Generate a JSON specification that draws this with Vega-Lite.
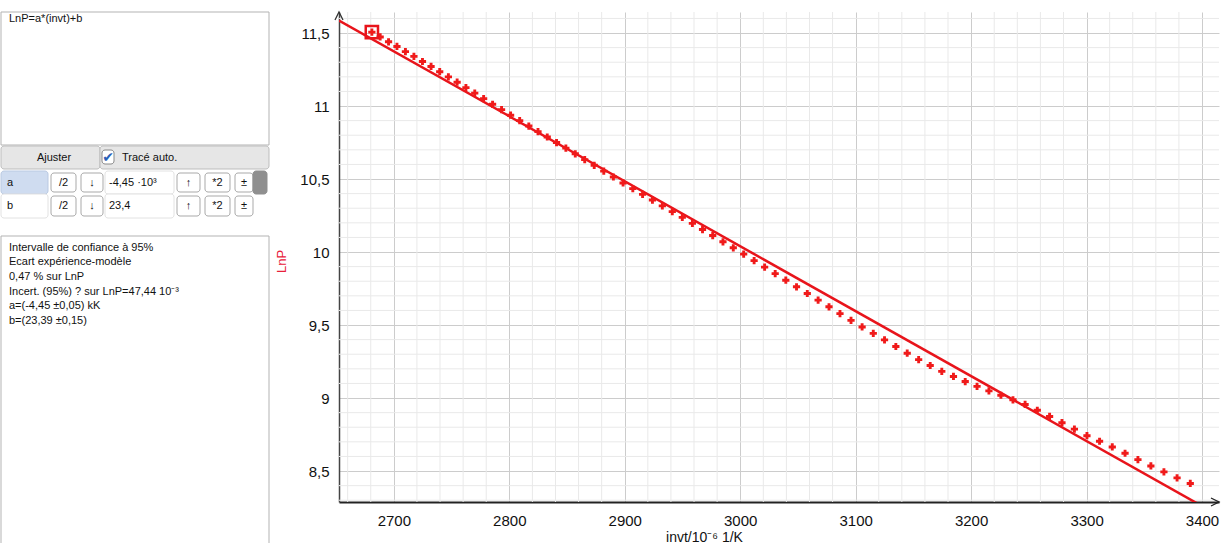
{
  "$schema": "https://vega.github.io/schema/vega-lite/v6.json",
  "padding": {"left": 0, "top": 9, "right": 0, "bottom": 0},
  "background": "white",
  "spacing": 70,
  "bounds": "flush",
  "config": {"view": {"stroke": null}, "font": "Liberation Sans"},
  "datasets": {
    "points": [
      {"invt": 2680.97, "LnP": 11.506}, {"invt": 2688.17, "LnP": 11.473}, {"invt": 2695.42, "LnP": 11.440},
      {"invt": 2702.70, "LnP": 11.408}, {"invt": 2710.03, "LnP": 11.373}, {"invt": 2717.39, "LnP": 11.340},
      {"invt": 2724.80, "LnP": 11.305}, {"invt": 2732.24, "LnP": 11.271}, {"invt": 2739.73, "LnP": 11.235},
      {"invt": 2747.25, "LnP": 11.200}, {"invt": 2754.82, "LnP": 11.163}, {"invt": 2762.43, "LnP": 11.126},
      {"invt": 2770.08, "LnP": 11.088}, {"invt": 2777.78, "LnP": 11.051}, {"invt": 2785.52, "LnP": 11.012},
      {"invt": 2793.30, "LnP": 10.975}, {"invt": 2801.12, "LnP": 10.937}, {"invt": 2808.99, "LnP": 10.900},
      {"invt": 2816.90, "LnP": 10.863}, {"invt": 2824.86, "LnP": 10.825}, {"invt": 2832.86, "LnP": 10.788},
      {"invt": 2840.91, "LnP": 10.750}, {"invt": 2849.00, "LnP": 10.712}, {"invt": 2857.14, "LnP": 10.673},
      {"invt": 2865.33, "LnP": 10.633}, {"invt": 2873.56, "LnP": 10.594}, {"invt": 2881.84, "LnP": 10.554},
      {"invt": 2890.17, "LnP": 10.514}, {"invt": 2898.55, "LnP": 10.473}, {"invt": 2906.98, "LnP": 10.434},
      {"invt": 2915.45, "LnP": 10.395}, {"invt": 2923.98, "LnP": 10.356}, {"invt": 2932.55, "LnP": 10.316},
      {"invt": 2941.18, "LnP": 10.277}, {"invt": 2949.85, "LnP": 10.237}, {"invt": 2958.58, "LnP": 10.196},
      {"invt": 2967.36, "LnP": 10.154}, {"invt": 2976.19, "LnP": 10.113}, {"invt": 2985.07, "LnP": 10.070},
      {"invt": 2994.01, "LnP": 10.029}, {"invt": 3003.00, "LnP": 9.986}, {"invt": 3012.05, "LnP": 9.941},
      {"invt": 3021.15, "LnP": 9.897}, {"invt": 3030.30, "LnP": 9.852}, {"invt": 3039.51, "LnP": 9.807},
      {"invt": 3048.78, "LnP": 9.762}, {"invt": 3058.10, "LnP": 9.716}, {"invt": 3067.48, "LnP": 9.671},
      {"invt": 3076.92, "LnP": 9.625}, {"invt": 3086.42, "LnP": 9.578}, {"invt": 3095.98, "LnP": 9.532},
      {"invt": 3105.59, "LnP": 9.487}, {"invt": 3115.26, "LnP": 9.443}, {"invt": 3125.00, "LnP": 9.398},
      {"invt": 3134.80, "LnP": 9.353}, {"invt": 3144.65, "LnP": 9.307}, {"invt": 3154.57, "LnP": 9.263},
      {"invt": 3164.56, "LnP": 9.223}, {"invt": 3174.60, "LnP": 9.183}, {"invt": 3184.71, "LnP": 9.148},
      {"invt": 3194.89, "LnP": 9.113}, {"invt": 3205.13, "LnP": 9.080}, {"invt": 3215.43, "LnP": 9.049},
      {"invt": 3225.81, "LnP": 9.019}, {"invt": 3236.25, "LnP": 8.988}, {"invt": 3246.75, "LnP": 8.956},
      {"invt": 3257.33, "LnP": 8.916}, {"invt": 3267.97, "LnP": 8.874}, {"invt": 3278.69, "LnP": 8.831},
      {"invt": 3289.47, "LnP": 8.787}, {"invt": 3300.33, "LnP": 8.742}, {"invt": 3311.26, "LnP": 8.704},
      {"invt": 3322.26, "LnP": 8.665}, {"invt": 3333.33, "LnP": 8.622}, {"invt": 3344.48, "LnP": 8.578},
      {"invt": 3355.70, "LnP": 8.535}, {"invt": 3367.00, "LnP": 8.494}, {"invt": 3378.38, "LnP": 8.453},
      {"invt": 3389.83, "LnP": 8.415}
    ],
    "fit": [{"invt": 2652.5, "LnP": 11.586}, {"invt": 3400, "LnP": 8.26}],
    "gridx": [
      {"invt": 2660}, {"invt": 2680}, {"invt": 2720}, {"invt": 2740}, {"invt": 2760}, {"invt": 2780},
      {"invt": 2820}, {"invt": 2840}, {"invt": 2860}, {"invt": 2880}, {"invt": 2920}, {"invt": 2940},
      {"invt": 2960}, {"invt": 2980}, {"invt": 3020}, {"invt": 3040}, {"invt": 3060}, {"invt": 3080},
      {"invt": 3120}, {"invt": 3140}, {"invt": 3160}, {"invt": 3180}, {"invt": 3220}, {"invt": 3240},
      {"invt": 3260}, {"invt": 3280}, {"invt": 3320}, {"invt": 3340}, {"invt": 3360}, {"invt": 3380}
    ],
    "gridy": [
      {"LnP": 8.3}, {"LnP": 8.4}, {"LnP": 8.6}, {"LnP": 8.7}, {"LnP": 8.8}, {"LnP": 8.9},
      {"LnP": 9.1}, {"LnP": 9.2}, {"LnP": 9.3}, {"LnP": 9.4}, {"LnP": 9.6}, {"LnP": 9.7},
      {"LnP": 9.8}, {"LnP": 9.9}, {"LnP": 10.1}, {"LnP": 10.2}, {"LnP": 10.3}, {"LnP": 10.4},
      {"LnP": 10.6}, {"LnP": 10.7}, {"LnP": 10.8}, {"LnP": 10.9}, {"LnP": 11.1}, {"LnP": 11.2},
      {"LnP": 11.3}, {"LnP": 11.4}, {"LnP": 11.6}
    ],
    "panelCells": [
      {"kind": "box", "x0": 0, "x1": 29, "y0": 0, "y1": 2},
      {"kind": "box", "x0": 0, "x1": 29, "y0": 17, "y1": 24},
      {"kind": "bar", "x0": 0, "x1": 10, "y0": 3, "y1": 7},
      {"kind": "bar", "x0": 10, "x1": 29, "y0": 3, "y1": 7},
      {"kind": "check", "x0": 11, "x1": 16, "y0": 4, "y1": 6},
      {"kind": "sel", "x0": 0, "x1": 3, "y0": 8, "y1": 12},
      {"kind": "cell", "x0": 0, "x1": 3, "y0": 12, "y1": 16},
      {"kind": "cell", "x0": 13, "x1": 18, "y0": 8, "y1": 12},
      {"kind": "cell", "x0": 13, "x1": 18, "y0": 12, "y1": 16},
      {"kind": "button", "x0": 4, "x1": 7, "y0": 9, "y1": 11},
      {"kind": "button", "x0": 8, "x1": 12, "y0": 9, "y1": 11},
      {"kind": "button", "x0": 19, "x1": 21, "y0": 9, "y1": 11},
      {"kind": "button", "x0": 22, "x1": 24, "y0": 9, "y1": 11},
      {"kind": "button", "x0": 25, "x1": 27, "y0": 9, "y1": 11},
      {"kind": "button", "x0": 4, "x1": 7, "y0": 13, "y1": 15},
      {"kind": "button", "x0": 8, "x1": 12, "y0": 13, "y1": 15},
      {"kind": "button", "x0": 19, "x1": 21, "y0": 13, "y1": 15},
      {"kind": "button", "x0": 22, "x1": 24, "y0": 13, "y1": 15},
      {"kind": "button", "x0": 25, "x1": 27, "y0": 13, "y1": 15},
      {"kind": "scroll", "x0": 27, "x1": 28, "y0": 8, "y1": 12}
    ],
    "panelText": [
      {"role": "left", "tx": 2, "ty": 1, "label": "LnP=a*(invt)+b"},
      {"role": "center", "tx": 5, "ty": 5, "label": "Ajuster"},
      {"role": "check", "tx": 14, "ty": 5, "label": "✔"},
      {"role": "left", "tx": 17, "ty": 5, "label": "Tracé auto."},
      {"role": "left", "tx": 1, "ty": 10, "label": "a"},
      {"role": "center", "tx": 6, "ty": 10, "label": "/2"},
      {"role": "center", "tx": 9, "ty": 10, "label": "↓"},
      {"role": "left", "tx": 15, "ty": 10, "label": "-4,45 ·10³"},
      {"role": "center", "tx": 20, "ty": 10, "label": "↑"},
      {"role": "center", "tx": 23, "ty": 10, "label": "*2"},
      {"role": "center", "tx": 26, "ty": 10, "label": "±"},
      {"role": "left", "tx": 1, "ty": 14, "label": "b"},
      {"role": "center", "tx": 6, "ty": 14, "label": "/2"},
      {"role": "center", "tx": 9, "ty": 14, "label": "↓"},
      {"role": "left", "tx": 15, "ty": 14, "label": "23,4"},
      {"role": "center", "tx": 20, "ty": 14, "label": "↑"},
      {"role": "center", "tx": 23, "ty": 14, "label": "*2"},
      {"role": "center", "tx": 26, "ty": 14, "label": "±"},
      {"role": "left", "tx": 2, "ty": 18, "label": "Intervalle de confiance à 95%"},
      {"role": "left", "tx": 2, "ty": 19, "label": "Ecart expérience-modèle"},
      {"role": "left", "tx": 2, "ty": 20, "label": "\u00a0\u00a00,47 % sur LnP"},
      {"role": "left", "tx": 2, "ty": 21, "label": "Incert. (95%) ? sur LnP=47,44 10⁻³"},
      {"role": "left", "tx": 2, "ty": 22, "label": "a=(-4,45 ±0,05) kK"},
      {"role": "left", "tx": 2, "ty": 23, "label": "b=(23,39 ±0,15)"}
    ]
  },
  "hconcat": [
    {
      "width": 268,
      "height": 530,
      "encoding": {
        "x": {"field": "x0", "type": "quantitative", "axis": null,
          "scale": {"domain": [0,1,2,3,4,5,6,7,8,9,10,11,12,13,14,15,16,17,18,19,20,21,22,23,24,25,26,27,28,29],
                    "range": [0,6,8,47,50,53,62.5,75,80,91,99,101,102,104,107,108,113,121,173,176,187.5,199,204,216.5,229,234,243,252,266,268]}},
        "y": {"field": "y0", "type": "quantitative", "axis": null,
          "scale": {"domain": [0,1,2,3,4,5,6,7,8,9,10,11,12,13,14,15,16,17,18,19,20,21,22,23,24],
                    "range": [0,7,133,134,138,145.5,152,157,159,161,170.5,180,182,184,194,204,206,224,235.5,250.2,264.9,279.6,294.3,309,545]}}
      },
      "layer": [
        {
          "data": {"name": "panelCells"},
          "transform": [{"filter": "datum.kind == 'box'"}],
          "mark": {"type": "rect", "fill": "#ffffff", "stroke": "#b3b3b3", "strokeWidth": 1},
          "encoding": {"x2": {"field": "x1"}, "y2": {"field": "y1"}}
        },
        {
          "data": {"name": "panelCells"},
          "transform": [{"filter": "datum.kind != 'box'"}],
          "mark": {"type": "rect", "cornerRadius": 3, "strokeWidth": 1},
          "encoding": {
            "x2": {"field": "x1"},
            "y2": {"field": "y1"},
            "fill": {"field": "kind", "type": "nominal", "legend": null,
              "scale": {"domain": ["bar","sel","cell","button","check","scroll"], "range": ["#e6e6e6","#cfdcf0","#ffffff","#ffffff","#ffffff","#8f8f8f"]}},
            "stroke": {"field": "kind", "type": "nominal", "legend": null,
              "scale": {"domain": ["bar","sel","cell","button","check","scroll"], "range": ["#bdbdbd","#b9c9e2","#e2e2e2","#a9a9a9","#8a8a8a","#8f8f8f"]}}
          }
        },
        {
          "data": {"name": "panelText"},
          "transform": [{"filter": "datum.role == 'left'"}],
          "mark": {"type": "text", "align": "left", "baseline": "middle", "fontSize": 11, "color": "#111111"},
          "encoding": {
            "x": {"field": "tx", "type": "quantitative"},
            "y": {"field": "ty", "type": "quantitative"},
            "text": {"field": "label"}
          }
        },
        {
          "data": {"name": "panelText"},
          "transform": [{"filter": "datum.role == 'center'"}],
          "mark": {"type": "text", "align": "center", "baseline": "middle", "fontSize": 11, "color": "#111111"},
          "encoding": {
            "x": {"field": "tx", "type": "quantitative"},
            "y": {"field": "ty", "type": "quantitative"},
            "text": {"field": "label"}
          }
        },
        {
          "data": {"name": "panelText"},
          "transform": [{"filter": "datum.role == 'check'"}],
          "mark": {"type": "text", "align": "center", "baseline": "middle", "font": "DejaVu Sans", "fontSize": 14, "color": "#2a5fb8"},
          "encoding": {
            "x": {"field": "tx", "type": "quantitative"},
            "y": {"field": "ty", "type": "quantitative"},
            "text": {"field": "label"}
          }
        }
      ]
    },
    {
      "width": 880,
      "height": 490,
      "layer": [
        {
          "data": {"name": "gridx"},
          "mark": {"type": "rule", "color": "#e9e9e9", "strokeWidth": 1},
          "encoding": {
            "x": {"field": "invt", "type": "quantitative", "scale": {"domain": [2652.5, 3414.7], "nice": false, "zero": false}}
          }
        },
        {
          "data": {"name": "gridy"},
          "mark": {"type": "rule", "color": "#e9e9e9", "strokeWidth": 1},
          "encoding": {
            "y": {"field": "LnP", "type": "quantitative", "scale": {"domain": [8.288, 11.644], "nice": false, "zero": false}}
          }
        },
        {
          "data": {"name": "fit"},
          "mark": {"type": "line", "color": "#e8141b", "strokeWidth": 2.5, "clip": true},
          "encoding": {
            "x": {"field": "invt", "type": "quantitative", "scale": {"domain": [2652.5, 3414.7], "nice": false, "zero": false}},
            "y": {"field": "LnP", "type": "quantitative", "scale": {"domain": [8.288, 11.644], "nice": false, "zero": false}}
          }
        },
        {
          "data": {"name": "points"},
          "mark": {"type": "point", "shape": "cross", "filled": true, "size": 52, "color": "#f01a1a", "opacity": 1},
          "encoding": {
            "x": {"field": "invt", "type": "quantitative", "title": "invt/10⁻⁶ 1/K",
              "scale": {"domain": [2652.5, 3414.7], "nice": false, "zero": false},
              "axis": {"values": [2700, 2800, 2900, 3000, 3100, 3200, 3300, 3400], "format": "d", "grid": true, "gridColor": "#cccccc", "gridWidth": 1,
                "ticks": false, "domainColor": "#222222", "domainWidth": 2, "labelFont": "Liberation Sans", "labelFontSize": 15,
                "labelColor": "#111111", "labelPadding": 11, "labelFlush": false, "titleFont": "Liberation Sans", "titleFontSize": 14,
                "titleFontWeight": "normal", "titleColor": "#111111", "titleX": 365, "titleY": 28, "titleBaseline": "top"}},
            "y": {"field": "LnP", "type": "quantitative", "title": "LnP",
              "scale": {"domain": [8.288, 11.644], "nice": false, "zero": false},
              "axis": {"values": [8.5, 9, 9.5, 10, 10.5, 11, 11.5], "labelExpr": "replace(toString(datum.value), '.', ',')",
                "grid": true, "gridColor": "#cccccc", "gridWidth": 1, "ticks": false, "domainColor": "#444444", "domainWidth": 1.5,
                "labelFont": "Liberation Sans", "labelFontSize": 15, "labelColor": "#111111", "labelPadding": 10,
                "titleFont": "Liberation Sans", "titleFontSize": 13, "titleFontWeight": "normal", "titleColor": "#e8203a",
                "titleX": -51, "titleY": 249}}
          }
        },
        {
          "data": {"name": "points"},
          "transform": [{"filter": "datum.invt < 2685"}],
          "mark": {"type": "point", "shape": "square", "filled": false, "size": 150, "color": "#e8141b", "strokeWidth": 2.5, "opacity": 1},
          "encoding": {
            "x": {"field": "invt", "type": "quantitative"},
            "y": {"field": "LnP", "type": "quantitative"}
          }
        },
        {
          "data": {"values": [{}]},
          "mark": {"type": "point", "shape": "M-0.5,1L0,0L0.5,1", "size": 256, "filled": false, "color": "#333333", "strokeWidth": 1.3, "opacity": 1},
          "encoding": {
            "x": {"datum": 2652.5, "type": "quantitative"},
            "y": {"datum": 11.644, "type": "quantitative"}
          }
        },
        {
          "data": {"values": [{}]},
          "mark": {"type": "point", "shape": "M-1,-0.5L0,0L-1,0.5", "size": 256, "filled": false, "color": "#222222", "strokeWidth": 1.3, "opacity": 1},
          "encoding": {
            "x": {"datum": 3414.7, "type": "quantitative"},
            "y": {"datum": 8.288, "type": "quantitative"}
          }
        }
      ]
    }
  ]
}
